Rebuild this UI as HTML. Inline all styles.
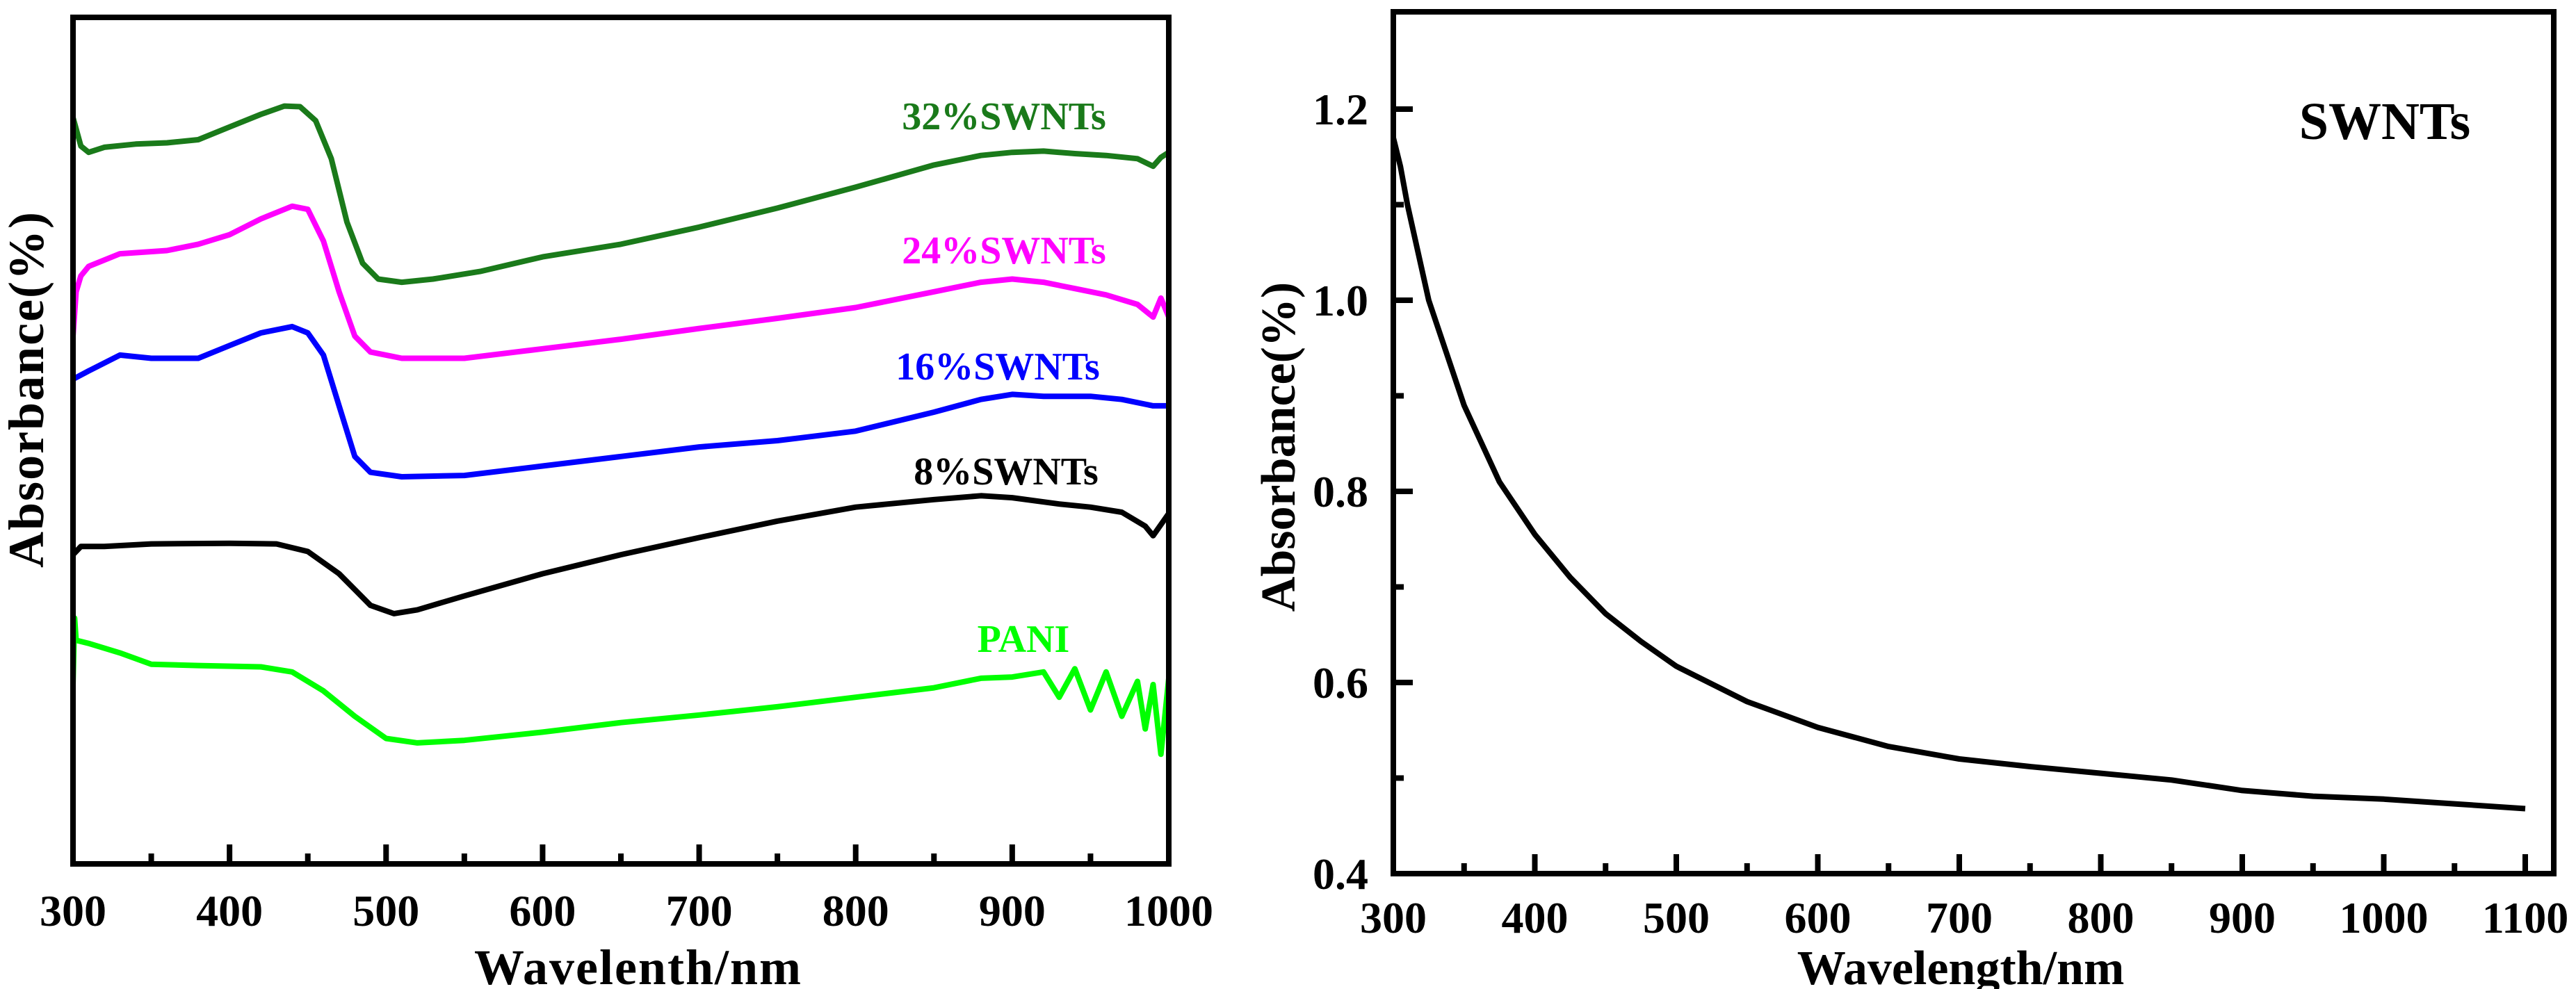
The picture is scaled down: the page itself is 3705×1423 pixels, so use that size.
<!DOCTYPE html>
<html><head><meta charset="utf-8"><style>
html,body{margin:0;padding:0;background:#fff;width:3705px;height:1423px;overflow:hidden}
svg text{font-family:"Liberation Serif",serif;font-weight:bold}
</style></head><body>
<svg id="chart" width="3705" height="1423" viewBox="0 0 3705 1423" xmlns="http://www.w3.org/2000/svg">
<g id="left"></g>
<g id="right"></g>
</svg>
<script>
// ---- Left chart data (wavelength nm, absorbance a.u. offset-stacked) ----
const leftXTicks = [300,400,500,600,700,800,900,1000];
const wl32 = [300,305,310,320,340,360,380,400,420,435,445,455,465,475,485,495,510,530,560,600,650,700,750,800,850,880,900,920,940,960,980,990,995,1000];
const ab32 = [1375,1330,1320,1328,1333,1335,1340,1360,1380,1393,1392,1370,1310,1210,1145,1120,1115,1120,1132,1155,1175,1202,1232,1265,1300,1315,1320,1322,1318,1315,1310,1298,1312,1320];
const wl24 = [300,302,305,310,330,360,380,400,420,440,450,460,470,480,490,510,550,600,650,700,750,800,850,880,900,920,940,960,980,990,995,1000];
const ab24 = [1030,1100,1125,1140,1160,1165,1175,1190,1215,1235,1230,1180,1100,1030,1005,995,995,1010,1025,1042,1058,1075,1100,1115,1120,1115,1105,1095,1080,1060,1090,1060];
const wl16 = [300,310,330,350,380,400,420,440,450,460,470,480,490,510,550,600,650,700,750,800,850,880,900,920,950,970,990,1000];
const ab16 = [962,975,1000,995,995,1015,1035,1045,1035,1000,920,840,815,808,810,825,840,855,865,880,910,930,938,935,935,930,920,920];
const wl8 = [300,305,320,350,400,430,450,470,490,505,520,550,600,650,700,750,800,850,880,900,930,950,970,985,990,1000];
const ab8 = [685,698,698,702,703,702,690,655,605,592,598,620,655,685,712,738,760,772,778,775,765,760,752,730,715,750];
const wlPani = [300,301,302,310,330,350,380,420,440,460,480,500,520,550,600,650,700,750,800,850,880,900,920,930,940,950,960,970,980,985,990,995,1000];
const abPani = [480,585,550,545,530,512,510,508,500,470,430,395,388,392,405,420,432,445,460,475,490,492,500,460,505,440,500,430,485,410,480,370,490];
const seriesNames = ["32%SWNTs","24%SWNTs","16%SWNTs","8%SWNTs","PANI"];
// ---- Right chart data ----
const rightXTicks = [300,400,500,600,700,800,900,1000,1100];
const rightYTicks = [0.4,0.6,0.8,1.0,1.2];
const wlS = [300,305,310,325,350,375,400,425,450,475,500,550,600,650,700,750,800,850,900,950,1000,1050,1100];
const abS = [1.17,1.14,1.10,1.0,0.89,0.81,0.755,0.71,0.672,0.643,0.617,0.58,0.553,0.533,0.52,0.512,0.505,0.498,0.487,0.481,0.478,0.473,0.468];

const NS="http://www.w3.org/2000/svg";
function mk(tag,attrs,parent,text){const e=document.createElementNS(NS,tag);for(const k in attrs)e.setAttribute(k,attrs[k]);if(text!==undefined)e.textContent=text;parent.appendChild(e);return e;}

// Left axes
const L={x0:105,x1:1681,y0:25,y1:1243};
const lx=w=>L.x0+(w-300)/(1000-300)*(L.x1-L.x0);
const ly=v=>L.y1-(v-197)/(1533-197)*(L.y1-L.y0);
const gl=document.getElementById('left');
function line(g,xs,ys,fx,fy,color,name,w){
  const d=xs.map((x,i)=>(i?'L':'M')+fx(x).toFixed(1)+','+fy(ys[i]).toFixed(1)).join('');
  const p=mk('path',{d:d,fill:'none',stroke:color,'stroke-width':w,'stroke-linejoin':'round'},g);
  
  
}
line(gl,wl32,ab32,lx,ly,'#1a7a1a','series-32-swnts',8);
line(gl,wl24,ab24,lx,ly,'#ff00ff','series-24-swnts',8);
line(gl,wl16,ab16,lx,ly,'#0000ff','series-16-swnts',8);
line(gl,wl8,ab8,lx,ly,'#000000','series-8-swnts',8);
line(gl,wlPani,abPani,lx,ly,'#00ff00','series-pani',8);
const lf=mk('rect',{x:L.x0,y:L.y0,width:L.x1-L.x0,height:L.y1-L.y0,fill:'none',stroke:'#000','stroke-width':8},gl);


for(let w=300;w<=1000;w+=50){
  const major=(w%100===0);
  const t=mk('line',{x1:lx(w),x2:lx(w),y1:L.y1,y2:L.y1-(major?28:15),stroke:'#000','stroke-width':8},gl);
  
  
}
leftXTicks.forEach(w=>{
  const t=mk('text',{x:lx(w),y:1332,'font-size':64,'text-anchor':'middle'},gl,String(w));
  
  
});
const lxt=mk('text',{x:918,y:1416,'font-size':72,'text-anchor':'middle','letter-spacing':2},gl,'Wavelenth/nm');


const lyt=mk('text',{x:0,y:0,'font-size':72,'text-anchor':'middle',transform:'translate(62,560) rotate(-90)','letter-spacing':2},gl,'Absorbance(%)');


const labels=[[1444,186,'#1a7a1a'],[1444,379,'#ff00ff'],[1435,546,'#0000ff'],[1447,697,'#000000'],[1472,938,'#00ff00']];
labels.forEach((l,i)=>{
  const t=mk('text',{x:l[0],y:l[1],'font-size':56,'text-anchor':'middle',fill:l[2]},gl,seriesNames[i]);
  
  
});

// Right axes
const R={x0:2004,x1:3673,y0:17,y1:1257};
const rx=w=>R.x0+(w-300)/(1100-300)*(3632-R.x0);
const ry=v=>R.y1-(v-0.4)/(1.0)*1375;
const gr=document.getElementById('right');
line(gr,wlS,abS,rx,ry,'#000','series-swnts',8);
const rf=mk('rect',{x:R.x0,y:R.y0,width:R.x1-R.x0,height:R.y1-R.y0,fill:'none',stroke:'#000','stroke-width':8},gr);


for(let w=300;w<=1100;w+=50){
  const major=(w%100===0);
  const t=mk('line',{x1:rx(w),x2:rx(w),y1:R.y1,y2:R.y1-(major?28:15),stroke:'#000','stroke-width':8},gr);
  
  
}
for(let v=0.4;v<=1.25;v+=0.1){
  const major=(Math.round(v*10)%2===0);
  const t=mk('line',{x1:R.x0,x2:R.x0+(major?28:15),y1:ry(v),y2:ry(v),stroke:'#000','stroke-width':8},gr);
  
  
}
rightXTicks.forEach(w=>{
  const t=mk('text',{x:rx(w),y:1342,'font-size':64,'text-anchor':'middle'},gr,String(w));
  
  
});
rightYTicks.forEach(v=>{
  const t=mk('text',{x:1968,y:ry(v)+22,'font-size':64,'text-anchor':'end'},gr,v.toFixed(1));
  
  
});
const rxt=mk('text',{x:2820,y:1416,'font-size':70,'text-anchor':'middle'},gr,'Wavelength/nm');


const ryt=mk('text',{x:0,y:0,'font-size':70,'text-anchor':'middle',transform:'translate(1862,643) rotate(-90)'},gr,'Absorbance(%)');


const sl=mk('text',{x:3430,y:200,'font-size':76,'text-anchor':'middle'},gr,'SWNTs');


</script>
</body></html>
